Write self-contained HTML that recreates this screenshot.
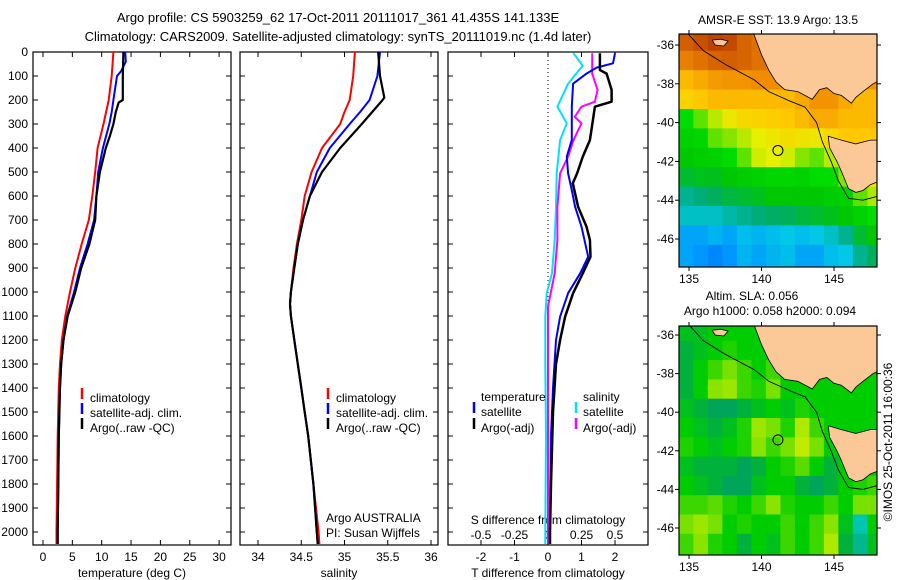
<!DOCTYPE html>
<html><head><meta charset="utf-8"><style>
body{margin:0;background:#fff;}
svg{display:block;font-family:"Liberation Sans",sans-serif;}
text{font-size:12px;fill:#000;}
</style></head><body>
<svg id="c" width="900" height="580" viewBox="0 0 900 580">
<text x="338" y="22" text-anchor="middle" style="font-size:13px">Argo profile: CS 5903259_62 17-Oct-2011 20111017_361 41.435S 141.133E</text>
<text x="338" y="41" text-anchor="middle" style="font-size:13px">Climatology: CARS2009. Satellite-adjusted climatology: synTS_20111019.nc (1.4d later)</text>
<text x="778" y="24" text-anchor="middle">AMSR-E SST: 13.9 Argo: 13.5</text>
<text x="752" y="300" text-anchor="middle">Altim. SLA: 0.056</text>
<text x="770" y="315" text-anchor="middle">Argo h1000: 0.058 h2000: 0.094</text>
<text transform="translate(892,442) rotate(-90)" text-anchor="middle">©IMOS 25-Oct-2011 16:00:36</text>
<g id="g"></g>
</svg>
<script>
// ---------- data ----------
const depthTicks=[0,100,200,300,400,500,600,700,800,900,1000,1100,1200,1300,1400,1500,1600,1700,1800,1900,2000];
const tempTicks=[0,5,10,15,20,25,30];
const salTicks=[34,34.5,35,35.5,36];
const tdiffTicks=[-2,-1,0,1,2];
const sdiffTicks=[-0.5,-0.25,0,0.25,0.5];
const sdiffLabels=["-0.5","-0.25","0","0.25","0.5"];

const tClimD=[0,100,200,300,400,500,600,700,800,900,1000,1100,1200,1300,1400,1600,1800,2000,2050];
const tClimV=[12.0,11.7,11.2,10.3,9.3,8.9,8.4,7.8,6.6,5.5,4.6,3.8,3.2,2.9,2.7,2.5,2.4,2.3,2.3];
const tSatD=[0,40,80,100,150,200,250,300,400,500,600,700,800,900,1000,1100,1200,1300,1400,1600,1800,2000,2050];
const tSatV=[14.0,14.1,13.3,12.6,12.3,12.0,11.7,11.3,10.2,9.4,9.1,8.7,7.6,6.3,5.3,4.1,3.5,3.1,2.9,2.7,2.6,2.5,2.5];
const tArgoD=[0,100,200,210,250,300,350,400,450,500,600,700,800,900,1000,1100,1200,1300,1400,1600,1800,2000,2050];
const tArgoV=[13.7,13.6,13.6,12.9,12.4,12.0,11.4,10.7,10.2,9.7,9.1,8.9,7.9,6.5,5.5,4.2,3.5,3.1,2.9,2.7,2.6,2.5,2.5];

const sClimD=[0,100,200,250,300,400,500,600,700,800,900,1000,1050,1100,1200,1300,1400,1500,1600,1700,1800,1900,2000,2050];
const sClimV=[35.12,35.1,35.06,35.0,34.95,34.74,34.62,34.54,34.5,34.45,34.41,34.38,34.37,34.38,34.42,34.46,34.5,34.54,34.58,34.61,34.64,34.67,34.7,34.71];
const sSatD=[0,100,200,250,300,400,500,600,700,800,900,1000,1050,1100,1200,1300,1400,1500,1600,1700,1800,1900,2000,2050];
const sSatV=[35.41,35.38,35.29,35.18,35.06,34.83,34.68,34.6,34.52,34.46,34.42,34.38,34.37,34.38,34.42,34.46,34.5,34.54,34.58,34.61,34.64,34.66,34.68,34.69];
const sArgoD=[0,100,190,200,250,300,400,500,600,700,800,900,1000,1050,1100,1200,1300,1400,1500,1600,1700,1800,1900,2000,2050];
const sArgoV=[35.39,35.41,35.46,35.44,35.32,35.2,34.95,34.74,34.6,34.52,34.46,34.42,34.38,34.37,34.38,34.42,34.46,34.5,34.54,34.58,34.61,34.64,34.66,34.68,34.69];

const dTArgoD=[5,75,90,158,207,228,284,367,436,506,547,645,728,783,853,922,1005,1103,1200,1300,1500,1800,2000,2050];
const dTArgoV=[1.55,1.55,1.75,1.9,1.9,1.4,1.34,1.25,1.04,0.87,0.74,0.9,1.15,1.25,1.27,1.04,0.75,0.51,0.36,0.24,0.15,0.09,0.06,0.06];
const dTSatD=[5,47,65,90,132,228,367,436,506,576,645,728,853,922,1005,1103,1200,1400,1600,2000,2050];
const dTSatV=[2.0,1.94,1.45,1.15,0.75,0.71,0.71,0.56,0.6,0.71,0.81,1.0,1.2,0.96,0.6,0.36,0.24,0.15,0.09,0.05,0.05];
const dSSatD=[5,58,90,132,228,297,367,506,645,783,922,1005,1103,1300,1600,2000,2050];
const dSSatV=[0.19,0.26,0.21,0.15,0.07,0.14,0.09,0.065,0.06,0.05,0.03,-0.01,-0.02,-0.02,-0.015,-0.02,-0.02];
const dSArgoD=[5,90,158,207,228,270,297,367,436,506,645,783,922,1060,1300,2000,2050];
const dSArgoV=[0.33,0.33,0.37,0.35,0.25,0.2,0.25,0.19,0.15,0.09,0.07,0.07,0.05,0.0,0.0,0.0,0.0];

// map grids: rows from -35.3 southward 1 deg each, cols from 134.3 eastward 1 deg each
const sstGrid=[
[.93,.95,.97,.96,.92,.9,.88,.86,.86,.86,.86,.86,.86,.86],
[.88,.9,.92,.93,.92,.9,.88,.85,.85,.85,.85,.85,.85,.85],
[.8,.82,.84,.85,.85,.86,.86,.85,.88,.88,.87,.85,.85,.85],
[.76,.78,.8,.8,.8,.8,.8,.8,.82,.85,.85,.82,.8,.8],
[.55,.6,.66,.72,.75,.76,.77,.78,.8,.82,.82,.8,.8,.8],
[.5,.52,.6,.62,.66,.7,.72,.74,.73,.72,.75,.78,.78,.78],
[.45,.48,.5,.55,.6,.68,.7,.68,.62,.6,.66,.72,.75,.78],
[.4,.42,.42,.45,.48,.5,.52,.52,.5,.55,.55,.62,.68,.72],
[.3,.32,.35,.38,.4,.42,.45,.45,.45,.45,.48,.5,.6,.65],
[.25,.25,.25,.28,.3,.32,.34,.35,.38,.4,.42,.45,.5,.55],
[.15,.15,.18,.15,.2,.18,.2,.22,.2,.22,.25,.3,.4,.45],
[.15,.12,.1,.12,.18,.15,.18,.2,.15,.15,.2,.22,.3,.35],
[.15,.12,.1,.12,.18,.15,.18,.2,.15,.15,.2,.22,.3,.35]];
const slaGrid=[
[.45,.45,.5,.5,.5,.5,.5,.5,.5,.5,.5,.5,.5,.5],
[.4,.45,.5,.55,.5,.5,.5,.5,.5,.5,.5,.5,.5,.5],
[.4,.5,.6,.7,.6,.5,.6,.5,.5,.5,.5,.5,.5,.5],
[.4,.5,.75,.8,.6,.55,.7,.5,.5,.5,.5,.5,.5,.5],
[.45,.4,.35,.35,.4,.45,.5,.45,.55,.5,.5,.5,.5,.5],
[.5,.45,.4,.45,.55,.8,.7,.55,.85,.6,.5,.5,.5,.5],
[.55,.5,.45,.5,.55,.75,.6,.7,.9,.7,.5,.5,.5,.5],
[.45,.4,.4,.4,.35,.4,.5,.55,.65,.5,.4,.5,.5,.5],
[.5,.45,.4,.35,.35,.45,.5,.5,.4,.35,.4,.5,.55,.6],
[.6,.6,.65,.55,.5,.6,.75,.55,.5,.5,.6,.5,.7,.7],
[.7,.8,.7,.5,.55,.5,.5,.6,.5,.6,.75,.45,.1,.5],
[.6,.75,.55,.5,.4,.5,.45,.6,.5,.6,.85,.4,.2,.45],
[.6,.75,.55,.5,.4,.5,.45,.6,.5,.6,.85,.4,.2,.45]];
const mainland=[[139.4,-35.3],[140.0,-36.5],[140.5,-37.3],[141.0,-37.9],[141.6,-38.3],[142.5,-38.4],[143.5,-38.8],[144.0,-38.3],[144.5,-38.2],[145.0,-38.5],[145.5,-38.6],[146.2,-39.0],[146.5,-38.7],[147.0,-38.4],[147.7,-38.0],[148.2,-37.8],[148.2,-35.3]];
const tasmania=[[144.6,-40.7],[145.5,-40.9],[146.5,-41.1],[147.5,-40.9],[148.2,-40.9],[148.2,-43.0],[147.5,-43.2],[147.0,-43.5],[146.5,-43.6],[146.0,-43.4],[145.5,-42.5],[145.2,-42.0],[144.7,-41.3]];
const kangaroo=[[136.6,-35.75],[137.2,-35.7],[137.7,-35.8],[137.4,-36.05],[136.8,-36.0]];
const shelf=[[134.9,-35.4],[136,-36.3],[137.5,-37.0],[139.5,-37.8],[140.5,-38.4],[142,-38.9],[143,-39.2],[143.8,-40],[144.2,-41],[144.8,-42],[145.3,-43],[146,-43.9],[147,-44.0],[148,-43.8]];
const argoPos=[141.133,-41.435];
const lonTicks=[135,140,145];
const latTicks=[-36,-38,-40,-42,-44,-46];

// ---------- helpers ----------
const NS="http://www.w3.org/2000/svg";
const G=document.getElementById('g');
function mk(tag,at,parent){const e=document.createElementNS(NS,tag);for(const k in at)e.setAttribute(k,at[k]);(parent||G).appendChild(e);return e;}
const yTop=52,yBot=545;
function yD(d){return yTop+d*0.24;}
const panels=[
 {x0:33,x1:231,f:v=>43+5.87*v},
 {x0:240,x1:438,f:v=>258+86.5*(v-34)},
 {x0:448,x1:648,f:v=>548+33.5*v}
];
const fS=v=>548+134*v;

function frame(p,name){
 const r=mk('rect',{x:p.x0,y:yTop,width:p.x1-p.x0,height:yBot-yTop,fill:'none',stroke:'#000','stroke-width':1.2});
 
 
 depthTicks.forEach(d=>{
  const y=yD(d);
  const t1=mk('line',{x1:p.x0,x2:p.x0+5,y1:y,y2:y,stroke:'#000'});
  
  
  const t2=mk('line',{x1:p.x1,x2:p.x1-5,y1:y,y2:y,stroke:'#000'});
  
  
 });
}
function xTicks(p,ticks,labels,name){
 ticks.forEach((t,i)=>{
  const x=p.f(t);
  const a=mk('line',{x1:x,x2:x,y1:yBot,y2:yBot-5,stroke:'#000'});
  
  
  const b=mk('line',{x1:x,x2:x,y1:yTop,y2:yTop+5,stroke:'#000'});
  
  
  const tx=mk('text',{x:x,y:561,'text-anchor':'middle'});
  tx.textContent=labels?labels[i]:String(t);
  
  
 });
}
function line(D,V,f,color,w,name){
 const pts=D.map((d,i)=>f(V[i]).toFixed(1)+','+yD(d).toFixed(1)).join(' ');
 const pl=mk('polyline',{points:pts,fill:'none',stroke:color,'stroke-width':w,'stroke-linejoin':'round'});
 
 
}
function label(x,y,s,name,anchor){const t=mk('text',{x:x,y:y,'text-anchor':anchor||'start'});t.textContent=s;return t;}
function legendMark(x,y,color,name){const l=mk('line',{x1:x,x2:x,y1:y-10,y2:y+1,stroke:color,'stroke-width':2.5});}

depthTicks.forEach(d=>{label(28,yD(d)+4,String(d),'depth-label','end');});

// panel 1
frame(panels[0],'temperature-panel');
xTicks(panels[0],tempTicks,null,'temperature-x');
line(tClimD,tClimV,panels[0].f,'#ff0000',2,'temp-climatology-line');
line(tSatD,tSatV,panels[0].f,'#0000ff',2,'temp-satellite-line');
line(tArgoD,tArgoV,panels[0].f,'#000000',2.2,'temp-argo-line');
label(132,577,'temperature (deg C)','temperature-axis-title','middle');
legendMark(82,398,'#ff0000','legend-marker-climatology');label(90,402,'climatology','legend-climatology');
legendMark(82,413,'#0000ff','legend-marker-satellite');label(90,417,'satellite-adj. clim.','legend-satellite');
legendMark(82,428,'#000000','legend-marker-argo');label(90,432,'Argo(..raw -QC)','legend-argo');

// panel 2
frame(panels[1],'salinity-panel');
xTicks(panels[1],salTicks,["34","34.5","35","35.5","36"],'salinity-x');
line(sClimD,sClimV,panels[1].f,'#ff0000',2,'sal-climatology-line');
line(sSatD,sSatV,panels[1].f,'#0000ff',2,'sal-satellite-line');
line(sArgoD,sArgoV,panels[1].f,'#000000',2.2,'sal-argo-line');
label(339,577,'salinity','salinity-axis-title','middle');
legendMark(328,398,'#ff0000','legend2-marker-climatology');label(336,402,'climatology','legend2-climatology');
legendMark(328,413,'#0000ff','legend2-marker-satellite');label(336,417,'satellite-adj. clim.','legend2-satellite');
legendMark(328,428,'#000000','legend2-marker-argo');label(336,432,'Argo(..raw -QC)','legend2-argo');
label(326,522,'Argo AUSTRALIA','argo-australia-label');
label(326,537,'PI: Susan Wijffels','pi-label');

// panel 3
frame(panels[2],'difference-panel');
xTicks(panels[2],tdiffTicks,null,'tdiff-x');
mk('line',{x1:548,x2:548,y1:yTop,y2:yBot,stroke:'#000','stroke-dasharray':'1,3'});
sdiffTicks.forEach((t,i)=>label(fS(t),539,sdiffLabels[i],'sdiff-tick-label','middle'));
label(548,524,'S difference from climatology','sdiff-axis-title','middle');
label(548,577,'T difference from climatology','tdiff-axis-title','middle');
line(dSSatD,dSSatV,fS,'#00e0ff',2,'sdiff-satellite-line');
line(dSArgoD,dSArgoV,fS,'#ff00ff',2,'sdiff-argo-line');
line(dTSatD,dTSatV,panels[2].f,'#0000ff',2,'tdiff-satellite-line');
line(dTArgoD,dTArgoV,panels[2].f,'#000000',2.5,'tdiff-argo-line');
label(481,401,'temperature','legend3-temperature-header');
label(583,401,'salinity','legend3-salinity-header');
legendMark(474,412,'#0000ff','legend3-marker-tsat');label(481,416,'satellite','legend3-tsat');
legendMark(474,428,'#000000','legend3-marker-targo');label(481,432,'Argo(-adj)','legend3-targo');
legendMark(576,412,'#00e0ff','legend3-marker-ssat');label(583,416,'satellite','legend3-ssat');
legendMark(576,428,'#ff00ff','legend3-marker-sargo');label(583,432,'Argo(-adj)','legend3-sargo');

// ---------- maps ----------
function lerpC(stops,v){
 v=Math.max(0,Math.min(1,v));
 for(let i=1;i<stops.length;i++){if(v<=stops[i][0]){const a=stops[i-1],b=stops[i],t=(v-a[0])/(b[0]-a[0]);
  const c=[0,1,2].map(k=>Math.round(a[1][k]+(b[1][k]-a[1][k])*t));return 'rgb('+c.join(',')+')';}}
 return 'rgb('+stops[stops.length-1][1].join(',')+')';
}
const sstStops=[[0,[0,60,230]],[0.12,[0,150,255]],[0.22,[0,200,230]],[0.33,[0,170,110]],[0.45,[0,200,0]],[0.55,[0,220,0]],[0.63,[150,230,0]],[0.7,[230,240,0]],[0.78,[255,200,0]],[0.86,[240,140,0]],[0.93,[210,95,0]],[1,[175,45,0]]];
const slaStops=[[0,[0,210,210]],[0.35,[0,165,90]],[0.5,[0,205,0]],[0.7,[120,225,0]],[1,[230,240,0]]];

function drawMap(m,grid,stops,name){
 const L=mk('g',{});
 
 
 const px=lon=>m.ox+(lon-135)*m.sx;
 const py=lat=>m.oy+(-36-lat)*m.sy;
 const clip='clip-'+name;
 const cp=mk('clipPath',{id:clip},L);mk('rect',{x:m.x0,y:m.y0,width:m.x1-m.x0,height:m.y1-m.y0},cp);
 const inner=mk('g',{'clip-path':'url(#'+clip+')'},L);
 grid.forEach((row,r)=>row.forEach((v,c)=>{
  const lon=134.3+c,lat=-35.3-r;
  const cell=mk('rect',{x:px(lon).toFixed(1),y:py(lat).toFixed(1),width:(m.sx+0.6).toFixed(1),height:(m.sy+0.6).toFixed(1),fill:lerpC(stops,v)},inner);
  
  
 }));
 [mainland,tasmania,kangaroo].forEach(poly=>{
  const p=mk('polygon',{points:poly.map(q=>px(q[0]).toFixed(1)+','+py(q[1]).toFixed(1)).join(' '),fill:'#fbc898',stroke:'#000','stroke-width':0.8},inner);
  
  
 });
 const sh=mk('polyline',{points:shelf.map(q=>px(q[0]).toFixed(1)+','+py(q[1]).toFixed(1)).join(' '),fill:'none',stroke:'#000','stroke-width':0.9},inner);
 
 
 const ci=mk('circle',{cx:px(argoPos[0]),cy:py(argoPos[1]),r:5,fill:'none',stroke:'#000','stroke-width':1},inner);
 
 
 mk('rect',{x:m.x0,y:m.y0,width:m.x1-m.x0,height:m.y1-m.y0,fill:'none',stroke:'#000','stroke-width':1.2},L);
 lonTicks.forEach(t=>{const x=px(t);mk('line',{x1:x,x2:x,y1:m.y1,y2:m.y1+4,stroke:'#000'},L);mk('line',{x1:x,x2:x,y1:m.y0,y2:m.y0-4,stroke:'#000'},L);
  const tx=mk('text',{x:x,y:m.y1+16,'text-anchor':'middle'},L);tx.textContent=String(t);});
 latTicks.forEach(t=>{const y=py(t);mk('line',{x1:m.x0,x2:m.x0-4,y1:y,y2:y,stroke:'#000'},L);mk('line',{x1:m.x1,x2:m.x1+4,y1:y,y2:y,stroke:'#000'},L);
  const tx=mk('text',{x:m.x0-5,y:y+4,'text-anchor':'end'},L);tx.textContent=String(t);});
}
drawMap({x0:679,x1:877,y0:34,y1:267,ox:689,oy:45,sx:14.5,sy:19.4},sstGrid,sstStops,'sst-map');
drawMap({x0:679,x1:877,y0:326,y1:555,ox:689,oy:335,sx:14.5,sy:19.3},slaGrid,slaStops,'sla-map');
</script>
</body></html>
